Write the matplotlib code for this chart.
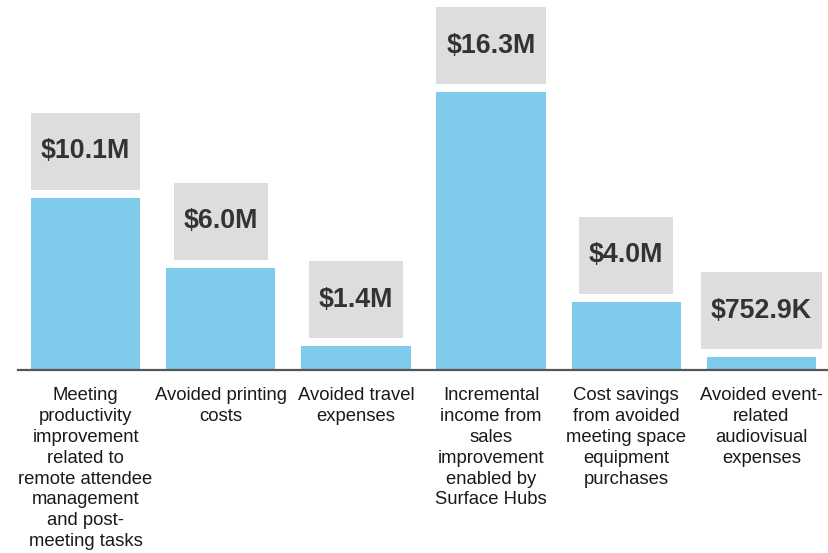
import matplotlib
matplotlib.use("Agg")
import matplotlib.pyplot as plt
from matplotlib.patches import Rectangle

# datos (millones de dolares)
categorias = [
    "Meeting\nproductivity\nimprovement\nrelated to\nremote attendee\nmanagement\nand post-\nmeeting tasks",
    "Avoided printing\ncosts",
    "Avoided travel\nexpenses",
    "Incremental\nincome from\nsales\nimprovement\nenabled by\nSurface Hubs",
    "Cost savings\nfrom avoided\nmeeting space\nequipment\npurchases",
    "Avoided event-\nrelated\naudiovisual\nexpenses",
]
valores = [10.1, 6.0, 1.4, 16.3, 4.0, 0.7529]
etiquetas = ["$10.1M", "$6.0M", "$1.4M", "$16.3M", "$4.0M", "$752.9K"]

plt.rcParams['font.family'] = ['Liberation Sans', 'DejaVu Sans']

W, H = 829, 553
fig = plt.figure(figsize=(W/100, H/100), dpi=100)
base = 370  # pixel de la linea base desde arriba
ax = fig.add_axes([18/W, 1 - base/H, 1 - 18/W, base/H])

x = list(range(len(valores)))
ax.bar(x, valores, width=0.81, color='#7FCBEC', zorder=1)
ax.set_xlim(-0.5, 5.5)
ax.set_ylim(0, base/17.05)

for s in ['top', 'right', 'left']:
    ax.spines[s].set_visible(False)
ax.spines['bottom'].set_color('#555555')
ax.spines['bottom'].set_linewidth(1.6)
ax.set_xticks([])
ax.set_yticks([])

# etiquetas de categoria
for xi, cat in zip(x, categorias):
    ax.annotate(cat, xy=(xi, 0), xytext=(0, -17), textcoords='offset pixels',
                ha='center', va='top', multialignment='center', linespacing=1.3,
                fontsize=13.3, color='#1a1a1a', annotation_clip=False)

# valores con caja gris
textos = []
for xi, v, lab in zip(x, valores, etiquetas):
    t = ax.annotate(lab, xy=(xi, v), xytext=(0, 8 + 38.5), textcoords='offset pixels',
                    ha='center', va='center', fontsize=19.3, fontweight='bold',
                    color='#333333', zorder=3, annotation_clip=False)
    textos.append(t)

fig.canvas.draw()
r = fig.canvas.get_renderer()
inv = ax.transData.inverted()
for xi, v, t in zip(x, valores, textos):
    bb = t.get_window_extent(r)
    cx = (bb.x0 + bb.x1) / 2
    _, ytop = ax.transData.transform((xi, v))
    x0, y0 = cx - bb.width/2 - 10, ytop + 8
    x1, y1 = cx + bb.width/2 + 10, ytop + 8 + 77
    (dx0, dy0), (dx1, dy1) = inv.transform([(x0, y0), (x1, y1)])
    ax.add_patch(Rectangle((dx0, dy0), dx1 - dx0, dy1 - dy0, facecolor='#DDDDDD',
                           edgecolor='none', zorder=2, clip_on=False))

fig.savefig("out.png", dpi=100)
